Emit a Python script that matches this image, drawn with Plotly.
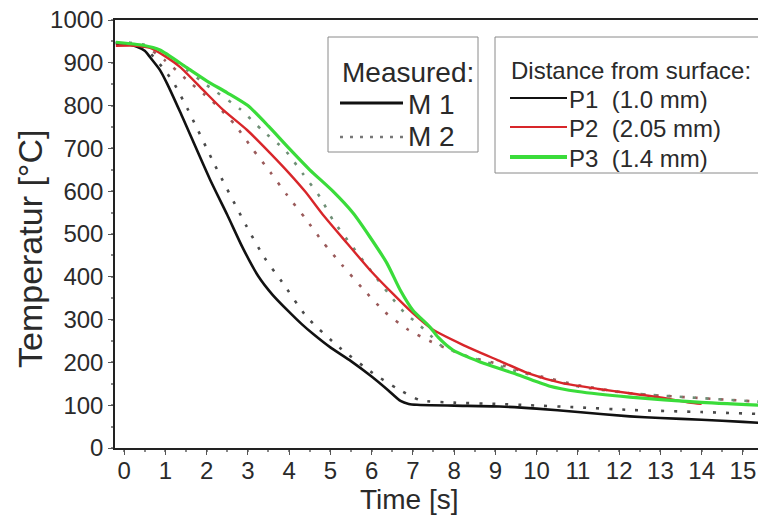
import plotly.graph_objects as go

# ---- data ----
t_p1_m1 = [-0.2, 0.0, 0.3, 0.5, 0.63, 0.87, 1.04, 1.36, 2.08, 2.5, 2.88, 3.25, 3.6, 4.0, 4.3, 4.6, 5.0, 5.5, 6.0, 6.4, 6.7, 6.9, 7.1, 8.0, 9.1, 10.0, 11.0, 12.26, 13.0, 14.0, 15.0, 15.6]
T_p1_m1 = [945, 945, 938, 928, 913, 883, 852, 785, 628, 545, 467, 402, 358, 318, 290, 265, 235, 203, 167, 135, 110, 103, 101, 99, 97, 92, 84, 74, 70, 66, 61, 58]

t_p1_m2 = [-0.2, 0.2, 0.5, 0.82, 1.04, 1.21, 1.53, 2.2, 2.98, 3.4, 3.83, 4.43, 5.23, 6.03, 6.6, 7.17, 8.0, 9.0, 9.8, 11.0, 12.26, 14.0, 15.6]
T_p1_m2 = [948, 946, 935, 902, 876, 852, 794, 661, 516, 445, 388, 306, 234, 175, 140, 112, 106, 103, 100, 95, 89, 84, 79]

t_p2_m1 = [-0.2, 0.3, 0.63, 1.0, 1.36, 1.92, 2.4, 2.98, 3.54, 4.02, 4.4, 4.82, 5.4, 5.96, 6.52, 7.0, 7.49, 8.21, 9.04, 9.84, 10.6, 11.5, 12.26, 13.0, 13.7, 14.0]
T_p2_m1 = [940, 940, 935, 915, 890, 836, 790, 743, 689, 640, 598, 545, 479, 416, 360, 315, 276, 241, 206, 173, 152, 138, 128, 118, 106, 103]

t_p2_m2 = [-0.2, 0.5, 1.0, 1.5, 1.92, 2.23, 2.69, 3.12, 3.54, 3.95, 4.39, 4.82, 5.28, 5.77, 6.32, 6.86, 7.41, 7.68, 8.3, 9.0, 10.0, 11.0, 12.26, 13.9, 15.6]
T_p2_m2 = [945, 938, 905, 862, 828, 802, 755, 698, 645, 591, 537, 481, 428, 374, 318, 278, 250, 238, 215, 198, 170, 147, 128, 117, 107]

t_p3_m1 = [-0.2, 0.46, 0.87, 1.5, 2.0, 2.5, 3.0, 3.5, 4.0, 4.5, 5.06, 5.55, 5.96, 6.37, 6.7, 7.0, 7.41, 7.61, 7.97, 8.63, 9.43, 10.3, 11.0, 12.26, 13.9, 15.6]
T_p3_m1 = [948, 941, 930, 890, 858, 830, 800, 752, 700, 650, 600, 549, 493, 432, 368, 322, 283, 259, 229, 201, 175, 145, 132, 119, 107, 99]

t_p3_m2 = [-0.2, 0.5, 1.0, 1.5, 2.0, 2.81, 3.34, 3.9, 4.34, 4.75, 5.06, 5.5, 6.0, 6.4, 6.81, 7.1, 7.37, 7.66, 8.3, 8.8, 9.5, 10.3, 11.05, 12.26, 13.9, 15.6]
T_p3_m2 = [948, 942, 922, 885, 848, 792, 743, 696, 640, 586, 533, 475, 412, 362, 315, 292, 269, 241, 215, 200, 180, 160, 143, 128, 117, 107]

y_ticks = [0, 100, 200, 300, 400, 500, 600, 700, 800, 900, 1000]
x_ticks = list(range(0, 16))

# The page body has an 8px default margin, so the figure sits 8px right/down.
OFF = 8
W, H = 766, 518
ML, MR, MT, MB = 115 - OFF, OFF, 20 - OFF, H - (448 - OFF)
PW, PH = W - ML - MR, H - MT - MB


def px(x):
    # screen pixel -> paper coordinate
    return (x - OFF - ML) / PW


def py(y):
    return (H - MB - (y - OFF)) / PH


FONT = "Liberation Sans, Arial, sans-serif"
TXT = "#2a2a2a"

fig = go.Figure()

series = [
    (t_p1_m2, T_p1_m2, "#4a4a4a", 2.6, "3px,10px"),
    (t_p2_m2, T_p2_m2, "#9a5a5a", 2.6, "3px,10px"),
    (t_p3_m2, T_p3_m2, "#6f8f76", 2.6, "3px,10px"),
    (t_p1_m1, T_p1_m1, "#111111", 2.6, "solid"),
    (t_p2_m1, T_p2_m1, "#d8262a", 2.4, "solid"),
    (t_p3_m1, T_p3_m1, "#3adc3a", 3.2, "solid"),
]
for t, T, c, w, d in series:
    fig.add_trace(go.Scatter(x=t, y=T, mode="lines",
                             line=dict(color=c, width=w, dash=d, shape="spline", smoothing=0.6),
                             showlegend=False, hoverinfo="skip"))

shapes = []
annotations = []

# legend box 1
shapes.append(dict(type="rect", xref="paper", yref="paper",
                   x0=px(328), x1=px(478), y0=py(152), y1=py(37),
                   line=dict(color="#8a8a8a", width=1), fillcolor="white", layer="above"))
annotations.append(dict(xref="paper", yref="paper", x=px(340), y=py(72), xanchor="left", yanchor="middle",
                        text="Measured:", showarrow=False, font=dict(family=FONT, size=28, color=TXT)))
shapes.append(dict(type="line", xref="paper", yref="paper", x0=px(340), x1=px(403), y0=py(103), y1=py(103),
                   line=dict(color="#111111", width=3), layer="above"))
annotations.append(dict(xref="paper", yref="paper", x=px(406), y=py(104), xanchor="left", yanchor="middle",
                        text="M 1", showarrow=False, font=dict(family=FONT, size=28, color=TXT)))
shapes.append(dict(type="line", xref="paper", yref="paper", x0=px(340), x1=px(403), y0=py(137), y1=py(137),
                   line=dict(color="#777777", width=2.6, dash="3px,7px"), layer="above"))
annotations.append(dict(xref="paper", yref="paper", x=px(406), y=py(137), xanchor="left", yanchor="middle",
                        text="M 2", showarrow=False, font=dict(family=FONT, size=28, color=TXT)))

# legend box 2
shapes.append(dict(type="rect", xref="paper", yref="paper",
                   x0=px(495), x1=px(763), y0=py(173), y1=py(37),
                   line=dict(color="#8a8a8a", width=1), fillcolor="white", layer="above"))
annotations.append(dict(xref="paper", yref="paper", x=px(509), y=py(71), xanchor="left", yanchor="middle",
                        text="Distance from surface:", showarrow=False, font=dict(family=FONT, size=24, color=TXT)))
for yy, c, w, label in [(98, "#111111", 2, "P1&nbsp;&nbsp;(1.0 mm)"),
                        (127, "#d8262a", 2, "P2&nbsp;&nbsp;(2.05 mm)"),
                        (157, "#3adc3a", 4, "P3&nbsp;&nbsp;(1.4 mm)")]:
    shapes.append(dict(type="line", xref="paper", yref="paper", x0=px(510), x1=px(567), y0=py(yy), y1=py(yy),
                       line=dict(color=c, width=w), layer="above"))
    annotations.append(dict(xref="paper", yref="paper", x=px(567), y=py(yy + 1), xanchor="left", yanchor="middle",
                            text=label, showarrow=False, font=dict(family=FONT, size=24, color=TXT)))

# axis titles
annotations.append(dict(xref="paper", yref="paper", x=px(409), y=py(499), xanchor="center", yanchor="middle",
                        text="Time [s]", showarrow=False, font=dict(family=FONT, size=28, color=TXT)))
annotations.append(dict(xref="paper", yref="paper", x=px(30), y=py(249), xanchor="center", yanchor="middle",
                        text="Temperatur [°C]", textangle=-90, showarrow=False,
                        font=dict(family=FONT, size=34, color=TXT)))

fig.update_layout(
    width=W, height=H,
    margin=dict(l=ML, r=MR, t=MT, b=MB, autoexpand=False),
    paper_bgcolor="white", plot_bgcolor="white",
    shapes=shapes, annotations=annotations,
    showlegend=False,
    xaxis=dict(range=[-0.22, 15.56], tickmode="array", tickvals=x_ticks,
               ticktext=[str(v) for v in x_ticks], automargin=False,
               ticklabeloverflow="allow", ticklabelstandoff=-5,
               showline=True, linecolor="#222", linewidth=1.5, mirror=True,
               ticks="outside", ticklen=5, tickwidth=1.3, tickcolor="#555",
               minor=dict(dtick=0.5, ticks="outside", ticklen=2, tickwidth=1.5, tickcolor="#888"),
               showgrid=False, zeroline=False,
               tickfont=dict(family=FONT, size=24, color=TXT)),
    yaxis=dict(range=[0, 1000], tickmode="array", tickvals=y_ticks,
               ticktext=[str(v) for v in y_ticks], automargin=False,
               ticklabeloverflow="allow",
               showline=True, linecolor="#222", linewidth=1.5,
               ticks="outside", ticklen=5, tickwidth=1.3, tickcolor="#555",
               minor=dict(dtick=50, ticks="outside", ticklen=2, tickwidth=1.5, tickcolor="#888"),
               showgrid=False, zeroline=False,
               tickfont=dict(family=FONT, size=24, color=TXT)),
)

fig.write_html("out.html")
